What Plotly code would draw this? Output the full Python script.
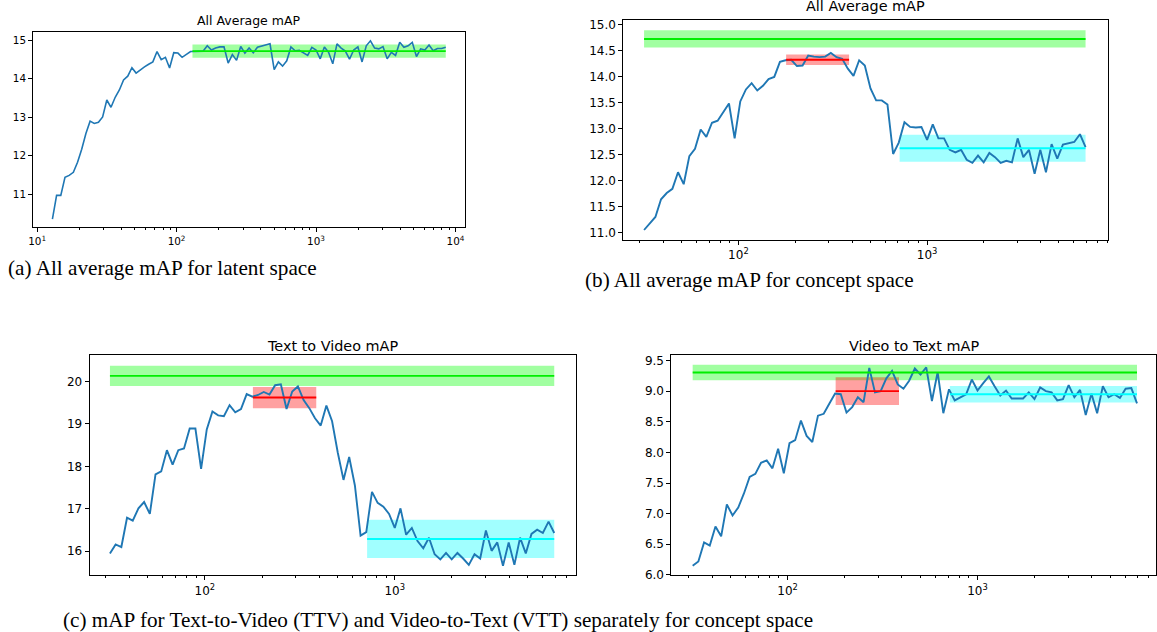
import plotly.graph_objects as go

# ---------------- data ----------------
X_LATENT = [12.88, 13.80, 14.79, 15.85, 16.98, 18.20, 19.50, 20.89, 22.39, 23.99,
            25.70, 27.54, 29.51, 31.62, 33.88, 36.31, 38.90, 41.69, 44.67, 47.86,
            51.29, 54.95, 58.88, 63.10, 67.61, 72.44, 77.62, 83.18, 89.13, 95.50,
            102.3, 109.6, 117.5, 125.9, 134.9, 144.5, 154.9, 166.0, 177.8, 190.5,
            204.2, 218.8, 234.4, 251.2, 269.2, 288.4, 309.0, 331.1, 354.8, 380.2,
            407.4, 436.5, 467.7, 501.2, 537.0, 575.4, 616.6, 660.7, 707.9, 758.6,
            812.8, 871.0, 933.3, 1000, 1072, 1148, 1230, 1318, 1413, 1514,
            1622, 1738, 1862, 1995, 2138, 2291, 2455, 2630, 2818, 3020,
            3236, 3467, 3715, 3981, 4266, 4571, 4898, 5248, 5623, 6026,
            6457, 6918, 7413, 7943, 8511]
Y_LATENT = [10.35, 10.97, 10.97, 11.44, 11.49, 11.57, 11.83, 12.17, 12.58, 12.90,
            12.84, 12.87, 13.01, 13.45, 13.26, 13.52, 13.71, 13.97, 14.07, 14.29,
            14.15, 14.24, 14.31, 14.38, 14.44, 14.71, 14.50, 14.56, 14.28, 14.68,
            14.67, 14.56, 14.64, 14.71, 14.71, 14.71, 14.72, 14.86, 14.75, 14.80,
            14.83, 14.83, 14.41, 14.63, 14.48, 14.84, 14.67, 14.80, 14.68, 14.82,
            14.85, 14.88, 14.91, 14.24, 14.44, 14.33, 14.47, 14.83, 14.73, 14.74,
            14.67, 14.61, 14.82, 14.75, 14.52, 14.83, 14.69, 14.39, 14.91, 14.80,
            14.72, 14.51, 14.75, 14.83, 14.44, 14.86, 14.99, 14.80, 14.78, 14.84,
            14.52, 14.69, 14.61, 14.95, 14.82, 14.86, 14.95, 14.58, 14.78, 14.75,
            14.88, 14.73, 14.79, 14.79, 14.82]

X_CONCEPT = [31.62, 33.88, 36.31, 38.90, 41.69, 44.67, 47.86, 51.29, 54.95, 58.88,
             63.10, 67.61, 72.44, 77.62, 83.18, 89.13, 95.50,
             102.3, 109.6, 117.5, 125.9, 134.9, 144.5, 154.9, 166.0, 177.8, 190.5,
             204.2, 218.8, 234.4, 251.2, 269.2, 288.4, 309.0, 331.1, 354.8, 380.2,
             407.4, 436.5, 467.7, 501.2, 537.0, 575.4, 616.6, 660.7, 707.9, 758.6,
             812.8, 871.0, 933.3,
             1000, 1072, 1148, 1230, 1318, 1413, 1514, 1622, 1738, 1862,
             1995, 2138, 2291, 2455, 2630, 2818, 3020, 3236, 3467, 3715,
             3981, 4266, 4571, 4898, 5248, 5623, 6026, 6457, 6918]
Y_ALL_CONCEPT = [11.05, 11.18, 11.30, 11.64, 11.76, 11.84, 12.16, 11.93, 12.47, 12.61,
                 12.98, 12.84, 13.11, 13.15, 13.31, 13.48, 12.81, 13.52, 13.75, 13.87,
                 13.73, 13.82, 13.95, 13.99, 14.28, 14.31, 14.32, 14.20, 14.21, 14.40,
                 14.38, 14.37, 14.38, 14.45, 14.37, 14.34, 14.15, 14.01, 14.31, 14.21,
                 13.77, 13.54, 13.54, 13.46, 12.51, 12.73, 13.12, 13.03, 13.02, 13.03,
                 12.78, 13.08, 12.81, 12.81, 12.59, 12.54, 12.59, 12.40, 12.34, 12.48,
                 12.35, 12.53, 12.45, 12.34, 12.38, 12.35, 12.81, 12.45, 12.59, 12.13,
                 12.59, 12.16, 12.70, 12.42, 12.69, 12.72, 12.74, 12.89, 12.64]
Y_TTV = [15.95, 16.16, 16.10, 16.79, 16.72, 17.01, 17.16, 16.88, 17.81, 17.88,
         18.38, 18.04, 18.38, 18.42, 18.89, 18.89, 17.94, 18.87, 19.29, 19.20,
         19.18, 19.44, 19.27, 19.35, 19.70, 19.64, 19.68, 19.75, 19.69, 19.91,
         19.93, 19.35, 19.76, 19.88, 19.56, 19.37, 19.13, 18.96, 19.43, 19.06,
         18.32, 17.68, 18.22, 17.55, 16.37, 16.45, 17.40, 17.14, 17.05, 16.88,
         16.55, 17.01, 16.39, 16.55, 16.24, 16.07, 16.32, 15.93, 15.81, 15.96,
         15.81, 15.96, 15.83, 15.68, 15.93, 15.83, 16.49, 16.01, 16.21, 15.66,
         16.21, 15.68, 16.32, 15.95, 16.41, 16.51, 16.43, 16.70, 16.43]
Y_VTT = [6.15, 6.22, 6.53, 6.48, 6.79, 6.63, 7.15, 6.97, 7.10, 7.33,
         7.60, 7.65, 7.83, 7.87, 7.74, 8.06, 7.66, 8.15, 8.20, 8.52,
         8.27, 8.17, 8.60, 8.63, 8.80, 8.96, 8.95, 8.65, 8.74, 8.90,
         8.82, 9.38, 8.98, 9.00, 9.21, 9.33, 9.11, 9.04, 9.17, 9.37,
         9.27, 9.39, 8.84, 9.31, 8.64, 9.03, 8.85, 8.90, 8.95, 9.19,
         9.01, 9.13, 9.24, 9.08, 8.93, 9.01, 8.88, 8.88, 8.88, 8.98,
         8.87, 9.06, 9.00, 8.98, 8.85, 8.87, 9.10, 8.90, 9.02, 8.61,
         8.96, 8.64, 9.08, 8.90, 8.95, 8.89, 9.04, 9.05, 8.80]

# reference bands (mean, half width) per panel a, b, c, d
GREEN_MEAN = [14.72, 14.72, 20.13, 9.305]
GREEN_HALF = [0.17, 0.165, 0.24, 0.125]
RED_MEAN = [None, 14.32, 19.62, 9.00]
RED_HALF = [None, 0.10, 0.25, 0.226]
CYAN_MEAN = [None, 12.62, 16.29, 8.95]
CYAN_HALF = [None, 0.26, 0.45, 0.135]
GREEN_X_LATENT = [130, 8511]
GREEN_X_CONCEPT = [31.62, 6918]
RED_X = [179, 386]
CYAN_X = [715, 6918]

TITLES = ["All Average mAP", "All Average mAP", "Text to Video mAP", "Video to Text mAP"]
CAPTIONS = ["(a) All average mAP for latent space",
            "(b) All average mAP for concept space",
            "(c) mAP for Text-to-Video (TTV) and Video-to-Text (VTT) separately for concept space"]
Y_TICKS = [[11, 12, 13, 14, 15],
           [11.0, 11.5, 12.0, 12.5, 13.0, 13.5, 14.0, 14.5, 15.0],
           [16, 17, 18, 19, 20],
           [6.0, 6.5, 7.0, 7.5, 8.0, 8.5, 9.0, 9.5]]
X_TICKS = [10, 100, 1000, 10000]
X_TICK_TEXT = ["10<sup>1</sup>", "10<sup>2</sup>", "10<sup>3</sup>", "10<sup>4</sup>"]
X_MINOR = [20, 30, 40, 50, 60, 70, 80, 90, 200, 300, 400, 500, 600, 700, 800, 900,
           2000, 3000, 4000, 5000, 6000, 7000, 8000, 9000]

# ---------------- layout geometry (pixels) ----------------
W, H = 1157, 632
BOX_X = [(28.3, 462), (621, 1108), (85, 573), (669.3, 1156)]
BOX_Y = [(29, 228), (17.7, 240.7), (357.7, 581.7), (357.7, 581.7)]
XR = [(0.972, 4.068), (1.39, 3.96), (1.393, 3.952), (1.388, 3.940)]
YR = [(10.137, 15.23), (10.86, 15.076), (15.43, 20.62), (5.99, 9.59)]
TICK_FS = [10.4, 12, 12, 12]
TITLE_FS = [12.5, 14.4, 14.4, 14.4]
TITLE_Y = [17.5, 3, 349, 349]
# caption: left x, y of text-box bottom, shift
CAP_POS = [(1, 283), (581, 296), (56, 632)]
CAP_SHIFT = [0, 0, -9]
CAP_FS = 21.2

BLUE = "#1f77b4"
fig = go.Figure()

series_x = [X_LATENT, X_CONCEPT, X_CONCEPT, X_CONCEPT]
series_y = [Y_LATENT, Y_ALL_CONCEPT, Y_TTV, Y_VTT]

for i in range(4):
    xa = "x" if i == 0 else f"x{i+1}"
    ya = "y" if i == 0 else f"y{i+1}"
    lw = 1.6 if i == 0 else 1.9
    bands = []
    gx = GREEN_X_LATENT if i == 0 else GREEN_X_CONCEPT
    bands.append((gx, GREEN_MEAN[i], GREEN_HALF[i], "rgba(0,255,0,0.37)", "#00ee00"))
    if RED_MEAN[i] is not None:
        bands.append((RED_X, RED_MEAN[i], RED_HALF[i], "rgba(255,0,0,0.37)", "#ff0000"))
    if CYAN_MEAN[i] is not None:
        bands.append((CYAN_X, CYAN_MEAN[i], CYAN_HALF[i], "rgba(0,255,255,0.37)", "#00ffff"))
    for bx, m, h, fc, lc in bands:
        fig.add_trace(go.Scatter(x=[bx[0], bx[1], bx[1], bx[0], bx[0]],
                                 y=[m - h, m - h, m + h, m + h, m - h],
                                 fill="toself", fillcolor=fc, mode="none",
                                 xaxis=xa, yaxis=ya, showlegend=False, hoverinfo="skip"))
    fig.add_trace(go.Scatter(x=series_x[i], y=series_y[i], mode="lines",
                             line=dict(color=BLUE, width=lw),
                             xaxis=xa, yaxis=ya, showlegend=False))
    for bx, m, h, fc, lc in bands:
        fig.add_trace(go.Scatter(x=[bx[0], bx[1]], y=[m, m], mode="lines",
                                 line=dict(color=lc, width=lw),
                                 xaxis=xa, yaxis=ya, showlegend=False))

layout = dict(width=W, height=H, margin=dict(l=0, r=0, t=0, b=0),
              paper_bgcolor="white", plot_bgcolor="white", showlegend=False)
annotations = []
for i in range(4):
    xk = "xaxis" if i == 0 else f"xaxis{i+1}"
    yk = "yaxis" if i == 0 else f"yaxis{i+1}"
    xa = "y" if i == 0 else f"y{i+1}"
    ya = "x" if i == 0 else f"x{i+1}"
    tf = dict(family="DejaVu Sans", size=TICK_FS[i], color="black")
    common = dict(showline=True, mirror=True, linecolor="black", linewidth=1,
                  ticks="outside", ticklen=4, tickwidth=1, tickcolor="black",
                  showgrid=False, zeroline=False, tickfont=tf)
    layout[xk] = dict(type="log", range=list(XR[i]),
                      domain=[BOX_X[i][0] / W, BOX_X[i][1] / W], anchor=xa,
                      tickmode="array", tickvals=X_TICKS, ticktext=X_TICK_TEXT,
                      minor=dict(ticks="outside", ticklen=2, tickwidth=1, tickcolor="black",
                                 tickmode="array", tickvals=X_MINOR, showgrid=False),
                      **common)
    if i == 1 or i == 3:
        ytext = [f"{v:.1f}" for v in Y_TICKS[i]]
    else:
        ytext = [f"{v:d}" for v in Y_TICKS[i]]
    layout[yk] = dict(range=list(YR[i]),
                      domain=[1 - BOX_Y[i][1] / H, 1 - BOX_Y[i][0] / H], anchor=ya,
                      tickmode="array", tickvals=Y_TICKS[i], ticktext=ytext, **common)
    cx = (BOX_X[i][0] + BOX_X[i][1]) / 2
    annotations.append(dict(text=TITLES[i], x=cx / W, y=1 - TITLE_Y[i] / H,
                            xref="paper", yref="paper", xanchor="center", yanchor="middle",
                            showarrow=False,
                            font=dict(family="DejaVu Sans", size=TITLE_FS[i], color="black")))
for cap, (px, py), sh in zip(CAPTIONS, CAP_POS, CAP_SHIFT):
    annotations.append(dict(text=cap, x=px / W, y=1 - py / H, xref="paper", yref="paper",
                            xanchor="left", yanchor="bottom", yshift=sh, showarrow=False,
                            font=dict(family="Liberation Serif", size=CAP_FS, color="black")))
layout["annotations"] = annotations
fig.update_layout(**layout)

fig.write_html("out.html", config={"displayModeBar": False},
               post_script="document.body.style.margin='0';document.body.style.overflow='hidden';")
